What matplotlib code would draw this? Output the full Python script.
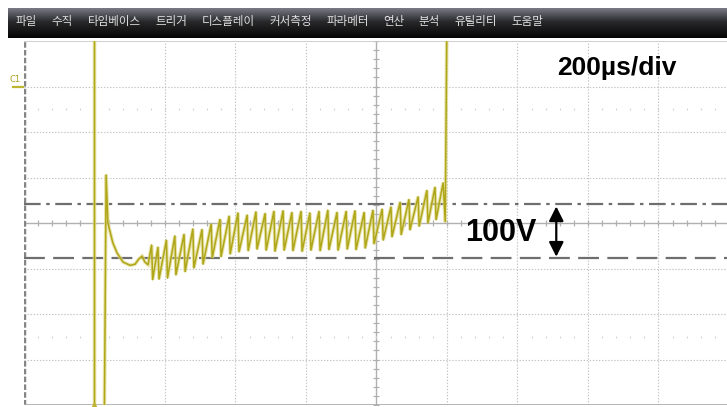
import numpy as np
import matplotlib
matplotlib.use("Agg")
import matplotlib.pyplot as plt

plt.rcParams["lines.scale_dashes"] = False

# Scope settings
TDIV = 200.0          # µs per division
VDIV = 85.0           # V per division
N_XDIV, N_YDIV = 10, 8
GROUND_V = 0.0        # C1 ground marker level
CENTER_V = -255.0     # screen centre level

# Reference levels (100 V apart)
level_upper = -220.0
level_lower = -320.0
span_label = "100V"
timebase_label = "200µs/div"

# Turn-on transient (µs, V); values beyond the screen are clipped
turnon_t = [200, 200, 227, 233, 238, 252, 264, 281, 301, 315, 326, 335, 343]
turnon_v = [150, -700, -700, -165, -255, -292, -311, -328, -334, -332, -322, -317, -328]

# Sawtooth ripple: peak times (µs), peak and preceding trough voltages (V)
peak_t = [362, 380, 404, 428, 454, 479, 505, 531, 556, 582, 607, 633, 658, 684,
          709, 735, 760, 786, 811, 837, 862, 888, 914, 939, 965, 990, 1016, 1041,
          1067, 1092, 1118, 1143, 1166, 1189]
peak_v = [-296, -300, -287, -279, -276, -266, -267, -257, -248, -242, -236, -240,
          -234, -237, -233, -232, -235, -233, -236, -233, -231, -235, -233, -232,
          -235, -231, -229, -225, -216, -211, -206, -194, -188, -180]
trough_v = [-333, -361, -360, -358, -352, -346, -339, -332, -320, -318, -313, -309,
            -307, -304, -306, -308, -306, -307, -308, -306, -307, -305, -306, -304,
            -305, -302, -294, -287, -281, -277, -268, -261, -255, -249]

# Turn-off edge
turnoff_t = [1195, 1200]
turnoff_v = [-253, 150]

menu_items = ["파일", "수직", "타임베이스", "트리거", "디스플레이", "커서측정",
              "파라메터", "연산", "분석", "유틸리티", "도움말"]

# ---- build trace path ----
t_path = list(turnon_t)
v_path = list(turnon_v)
for i, (tp, hi, lo) in enumerate(zip(peak_t, peak_v, trough_v)):
    t_lo = tp - 10 if i == 0 else peak_t[i - 1] + 3
    t_path += [t_lo, tp]
    v_path += [lo, hi]
t_path += turnoff_t
v_path += turnoff_v

W, H = 727, 407
fig = plt.figure(figsize=(W / 100, H / 100), dpi=100)
fig.patch.set_facecolor("white")

# ---- menu bar ----
mb = fig.add_axes([8 / W, 1 - 38 / H, (W - 8) / W, 30 / H])
grad = np.linspace(0, 1, 60)
top = np.array([0.47, 0.48, 0.52])
mid = np.array([0.16, 0.16, 0.17])
bot = np.array([0.02, 0.02, 0.02])
cols = np.where(grad[:, None] < 0.45,
                top + (mid - top) * (grad[:, None] / 0.45),
                mid + (bot - mid) * ((grad[:, None] - 0.45) / 0.55))
mb.imshow(np.repeat(cols[:, None, :], 10, axis=1), aspect="auto",
          extent=[0, 1, 0, 1], interpolation="bilinear")
mb.set_axis_off()

fig.canvas.draw()
renderer = fig.canvas.get_renderer()
x_px = 16.0
for item in menu_items:
    t = fig.text(x_px / W, 1 - 22 / H, item, fontsize=8.3, color="#e0e0e0",
                 family=["Noto Sans CJK KR", "DejaVu Sans"], va="center", ha="left")
    bb = t.get_window_extent(renderer)
    x_px += bb.width + 14.5

# ---- scope screen ----
left, top_px, bottom_px = 24, 41, 405
ax = fig.add_axes([left / W, (H - bottom_px) / H, (N_XDIV * 70.5) / W,
                   (bottom_px - top_px) / H])
ax.set_xlim(0, N_XDIV * TDIV)
ax.set_ylim(GROUND_V - 7 * VDIV, GROUND_V + VDIV)
for s in ax.spines.values():
    s.set_visible(False)
ax.set_xticks([])
ax.set_yticks([])

grid_c = "#c4c4c4"
for k in range(1, N_XDIV):
    if k != N_XDIV // 2:
        ax.axvline(k * TDIV, color=grid_c, lw=0.8, ls=(0, (1, 1.2)), zorder=1)
for k in range(1, N_YDIV):
    yv = GROUND_V + VDIV - k * VDIV
    if abs(yv - CENTER_V) > 1:
        ax.axhline(yv, color=grid_c, lw=0.8, ls=(0, (1, 1.2)), zorder=1)

# centre axes with sub-division ticks
cen_c = "#b0b0b0"
ax.axhline(CENTER_V, color=cen_c, lw=1.0, zorder=1)
ax.axvline(N_XDIV * TDIV / 2, color=cen_c, lw=1.0, zorder=1)
xt = np.arange(0, N_XDIV * TDIV + 1, TDIV / 5)
ax.plot(xt, np.full_like(xt, CENTER_V), ls="none", marker="|", ms=5,
        mew=0.9, color=cen_c, zorder=1)
yt = np.arange(GROUND_V - 7 * VDIV, GROUND_V + VDIV + 1, VDIV / 5)
ax.plot(np.full_like(yt, N_XDIV * TDIV / 2), yt, ls="none", marker="_", ms=5,
        mew=0.9, color=cen_c, zorder=1)

# faint marker rows at ±2.5 div
for off in (2.5, -2.5):
    ax.plot(xt, np.full_like(xt, CENTER_V + off * VDIV), ls="none", marker="|",
            ms=2, mew=0.8, color="#d4d4d4", zorder=1)

# screen frame
ax.axvline(0, color="#858585", lw=2.5, dashes=(4, 1.6), zorder=2)
ax.axhline(GROUND_V + VDIV, color="#c8c8c8", lw=1.2, zorder=2)
ax.axhline(GROUND_V - 7 * VDIV, color="#a8a8a8", lw=1.2, zorder=2)

# reference levels
ax.axhline(level_upper, color="#6e6e6e", lw=1.6, dashes=(12, 4, 2.5, 4), zorder=3)
ax.axhline(level_lower, color="#6e6e6e", lw=1.6, dashes=(15, 6), zorder=3)

# trace
ax.plot(t_path, v_path, color="#e0da8c", lw=2.6, alpha=0.75, zorder=4,
        solid_joinstyle="miter")
ax.plot(t_path, v_path, color="#afa618", lw=1.1, zorder=5)

# C1 ground marker and trigger marker
ax.plot([-32, -3], [GROUND_V, GROUND_V], color="#bdb430", lw=1.6, clip_on=False)
fig.text(10 / W, 1 - 79 / H, "C1", fontsize=6, color="#a8a020",
         ha="left", va="center")
ax.plot([turnon_t[0]], [GROUND_V - 7 * VDIV], marker="^", ms=3.5,
        color="#bdb430", clip_on=False, zorder=6)

# 100 V span arrow and labels
x_arrow = 1510
ax.annotate("", xy=(x_arrow, level_upper - 4), xytext=(x_arrow, level_lower + 2),
            arrowprops=dict(arrowstyle="<|-|>", color="black", lw=1.6,
                            mutation_scale=22, shrinkA=0, shrinkB=0), zorder=7)
ax.text(1455, (level_upper + level_lower) / 2 - 4, span_label, fontsize=22,
        fontweight="bold", family="Liberation Sans", ha="right", va="center",
        zorder=7)
fig.text(557 / W, 1 - 75 / H, timebase_label, fontsize=19, fontweight="bold",
         family="Liberation Sans", ha="left", va="baseline")

fig.savefig("out.png", dpi=100, facecolor="white")
